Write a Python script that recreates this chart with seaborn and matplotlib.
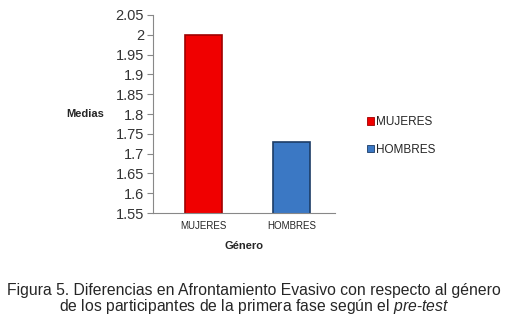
import seaborn as sns
import pandas as pd
from matplotlib import pyplot as plt

# Data
generos = ['MUJERES', 'HOMBRES']
medias = [2.0, 1.73]
colores = ['#f00000', '#3b78c4']
bordes = ['#a00000', '#1c3c66']
yticks = [1.55, 1.6, 1.65, 1.7, 1.75, 1.8, 1.85, 1.9, 1.95, 2.0, 2.05]
ytick_labels = ['1.55', '1.6', '1.65', '1.7', '1.75', '1.8', '1.85', '1.9', '1.95', '2', '2.05']

df = pd.DataFrame({'Genero': generos, 'Media': medias})

sns.set_style('white')
plt.rcParams['font.family'] = ['Liberation Sans', 'DejaVu Sans']
plt.rcParams['mathtext.fontset'] = 'custom'
plt.rcParams['mathtext.it'] = 'Liberation Sans:italic'
plt.rcParams['mathtext.rm'] = 'Liberation Sans'

fig = plt.figure(figsize=(5.08, 3.19), dpi=100)
ax = fig.add_axes([0.301, 0.332, 0.358, 0.621])

sns.barplot(data=df, x='Genero', y='Media', hue='Genero', palette=colores,
            saturation=1, width=0.42, ax=ax, legend=False)
for bar, ec in zip(ax.patches, bordes):
    bar.set_edgecolor(ec)
    bar.set_linewidth(1.2)

ax.set_xlim(-0.57, 1.49)
ax.set_ylim(1.55, 2.05)
ax.set_yticks(yticks)
ax.set_yticklabels(ytick_labels, fontsize=10.5, color='#333333')
ax.tick_params(axis='y', length=4.5, width=0.8, color='#888888', pad=2, direction='out', left=True)
ax.tick_params(axis='x', length=0, labelsize=7, pad=6)

for side in ['top', 'right']:
    ax.spines[side].set_visible(False)
for side in ['left', 'bottom']:
    ax.spines[side].set_color('#888888')
    ax.spines[side].set_linewidth(0.8)

ax.set_xlabel('')
ax.set_ylabel('')
fig.text(104 / 508, 1 - 114 / 319, 'Medias', ha='right', va='center',
         fontsize=8, fontweight='bold')
fig.text(244 / 508, 1 - 246 / 319, 'Género', ha='center', va='center',
         fontsize=8, fontweight='bold')

# legend
handles = [plt.Rectangle((0, 0), 1, 1, facecolor=c, edgecolor=e, linewidth=0.6)
           for c, e in zip(colores, bordes)]
fig.legend(handles, generos, loc='center left', bbox_to_anchor=(362 / 508, 1 - 136 / 319),
           frameon=False, fontsize=8.5, handlelength=0.6, handleheight=0.6,
           handletextpad=0.2, labelspacing=1.3, borderaxespad=0)

fig.text(254 / 508, 1 - 291 / 319,
         'Figura 5. Diferencias en Afrontamiento Evasivo con respecto al género',
         ha='center', va='center', fontsize=11.3)
fig.text(254 / 508, 1 - 307 / 319,
         'de los participantes de la primera fase según el $\\mathit{pre}$-$\\mathit{test}$',
         ha='center', va='center', fontsize=11.3)

fig.savefig('out.png', dpi=100)
